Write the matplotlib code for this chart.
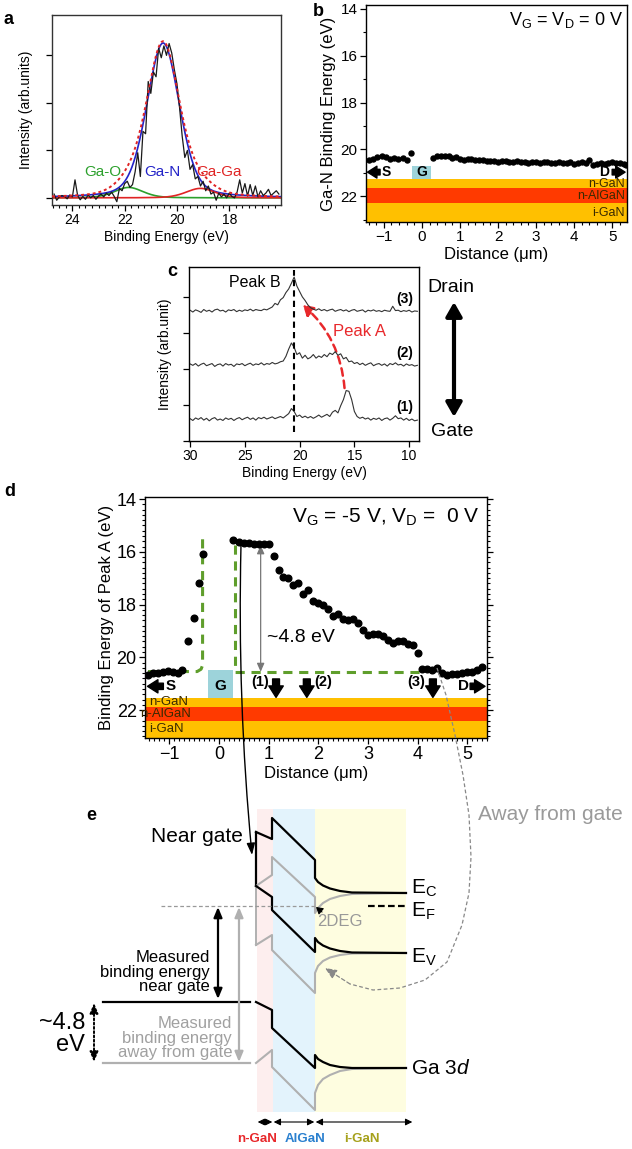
import numpy as np
import matplotlib
matplotlib.use('Agg')
import matplotlib.pyplot as plt
from matplotlib.patches import Rectangle, FancyArrowPatch
from matplotlib.ticker import MultipleLocator, NullFormatter

plt.rcParams['font.family'] = ['Liberation Sans', 'DejaVu Sans']
plt.rcParams['mathtext.fontset'] = 'custom'
plt.rcParams['mathtext.rm'] = 'Liberation Sans'
plt.rcParams['mathtext.it'] = 'Liberation Sans:italic'
plt.rcParams['mathtext.bf'] = 'Liberation Sans:bold'
plt.rcParams['axes.linewidth'] = 1.0

# ---------------- data: panel a ----------------
a_energy = np.linspace(24.7, 16.1, 87)
a_counts = [0.08, -0.05, 0.02, 0.05, 0.03, -0.02, 0.06, 0.02, 0.38, 0.05,
            -0.04, 0.03, -0.03, 0.06, 0.0, 0.05, -0.03, 0.04, 0.08, 0.02,
            0.1, 0.05, 0.12, 0.03, -0.08, 0.2, 0.15, 0.3, 0.35, 0.22,
            0.28, 0.55, 0.95, 0.45, 1.4, 1.35, 2.45, 2.2, 2.65, 2.55,
            3.15, 2.95, 3.2, 3.0, 3.25, 3.05, 2.7, 2.4, 1.9, 1.3,
            0.85, 1.0, 0.6, 0.7, 0.4, 0.45, 0.25, 0.35, 0.15, 0.25,
            0.08, 0.12, -0.05, 0.1, 0.02, 0.08, 0.0, 0.1, 0.03, 0.0,
            0.12, 0.38, 0.1, 0.3, 0.04, 0.28, 0.05, 0.25, 0.02, 0.15,
            0.05, 0.1, 0.18, 0.05, 0.1, 0.15, 0.08]
a_fit_names = ['Ga-O', 'Ga-N', 'Ga-Ga']
a_fit_centers = [21.85, 20.53, 19.1]
a_fit_heights = [0.22, 3.26, 0.20]
a_fit_fwhm = [1.3, 1.48, 1.3]
a_fit_lorentz_frac = [0.3, 0.3, 0.3]
a_fit_colors = ['#2ca02c', '#2323c8', '#e02424']
a_label_x = [22.83, 20.54, 18.4]

# ---------------- data: panel b ----------------
b_x_left = [-1.39, -1.28, -1.17, -1.06, -0.95, -0.84, -0.73, -0.62, -0.51, -0.40]
b_y_left = [20.47, 20.40, 20.33, 20.28, 20.33, 20.40, 20.38, 20.40, 20.38, 20.45]
b_x_mid = [-0.29]
b_y_mid = [20.17]
b_x_right = [0.3, 0.4, 0.5, 0.6, 0.7, 0.8, 0.9, 1.0, 1.1, 1.2, 1.3, 1.4, 1.5, 1.6, 1.7,
             1.8, 1.9, 2.0, 2.1, 2.2, 2.3, 2.4, 2.5, 2.6, 2.7, 2.8, 2.9, 3.0, 3.1, 3.2,
             3.3, 3.4, 3.5, 3.6, 3.7, 3.8, 3.9, 4.0, 4.1, 4.2, 4.3, 4.4, 4.5, 4.6, 4.7,
             4.8, 4.9, 5.0, 5.1, 5.2, 5.3, 5.36]
b_y_right = [20.35, 20.30, 20.28, 20.30, 20.30, 20.35, 20.32, 20.40, 20.45, 20.42, 20.40,
             20.45, 20.45, 20.45, 20.50, 20.48, 20.50, 20.55, 20.50, 20.50, 20.55, 20.55,
             20.50, 20.52, 20.55, 20.58, 20.55, 20.55, 20.60, 20.55, 20.55, 20.58, 20.60,
             20.55, 20.60, 20.60, 20.55, 20.62, 20.60, 20.55, 20.60, 20.45, 20.65, 20.62,
             20.60, 20.62, 20.60, 20.55, 20.60, 20.60, 20.62, 20.65]
layer_names = ['n-GaN', 'n-AlGaN', 'i-GaN']
layer_colors = ['#FFC000', '#FF3A00', '#FFC000']
b_layer_bounds = [21.27, 21.66, 22.30, 23.10]
b_gate = (-0.26, 0.24, 20.70, 21.27)

# ---------------- data: panel c ----------------
c_energy = np.linspace(30.0, 9.25, 84)
c_base = [0.60, 2.10, 3.60]
c_off1 = [0.02, -0.03, 0.04, 0.00, 0.05, -0.02, 0.03, -0.04, 0.02, 0.05,
          -0.02, 0.01, -0.03, 0.04, 0.00, 0.03, -0.03, 0.02, 0.05, -0.01,
          0.03, 0.06, 0.00, 0.04, -0.02, 0.05, 0.02, 0.06, 0.01, 0.04,
          0.07, 0.02, 0.05, 0.08, 0.04, 0.10, 0.16, 0.30, 0.22, 0.08,
          0.12, 0.05, 0.09, 0.04, 0.08, 0.03, 0.07, 0.12, 0.06, 0.10,
          0.14, 0.08, 0.20, 0.25, 0.18, 0.38, 0.55, 0.80, 0.78, 0.55,
          0.22, 0.08, 0.03, 0.06, 0.01, 0.04, -0.02, 0.03, 0.00, 0.04,
          -0.03, 0.02, 0.04, -0.02, 0.03, 0.10, 0.02, 0.04, -0.02, 0.03,
          -0.03, 0.01, -0.04, -0.02]
c_off2 = [0.04, 0.00, 0.05, -0.02, 0.03, 0.06, -0.01, 0.02, 0.05, -0.03,
          0.02, 0.04, -0.02, 0.05, 0.01, 0.03, -0.03, 0.04, 0.02, 0.05,
          -0.01, 0.03, 0.06, 0.00, 0.04, 0.02, 0.07, 0.01, 0.05, 0.03,
          0.08, 0.04, 0.06, 0.10, 0.12, 0.25, 0.45, 0.62, 0.50, 0.30,
          0.35, 0.20, 0.28, 0.18, 0.22, 0.30, 0.20, 0.26, 0.22, 0.30,
          0.24, 0.34, 0.30, 0.38, 0.28, 0.32, 0.18, 0.22, 0.10, 0.12,
          0.05, 0.08, 0.02, 0.06, 0.00, 0.04, 0.07, -0.01, 0.03, 0.05,
          0.00, 0.04, -0.02, 0.05, 0.02, 0.07, 0.01, 0.03, -0.02, 0.04,
          0.00, 0.02, -0.02, 0.00]
c_off3 = [0.03, -0.02, 0.04, 0.01, -0.03, 0.05, 0.00, 0.03, -0.02, 0.04,
          0.06, 0.01, 0.03, -0.02, 0.04, 0.02, 0.05, -0.01, 0.03, 0.00,
          0.04, 0.02, 0.06, 0.01, 0.05, 0.03, 0.02, 0.06, 0.04, 0.08,
          0.12, 0.22, 0.18, 0.32, 0.38, 0.52, 0.62, 0.78, 0.95, 0.70,
          0.55, 0.40, 0.30, 0.18, 0.10, 0.06, 0.03, 0.07, 0.02, 0.05,
          0.01, 0.04, 0.06, 0.00, 0.03, 0.05, 0.01, 0.04, -0.01, 0.03,
          0.05, 0.00, 0.02, 0.04, -0.02, 0.03, 0.01, 0.04, 0.00, 0.02,
          -0.01, 0.03, 0.01, 0.00, 0.14, 0.02, 0.03, -0.01, 0.02, 0.00,
          0.03, -0.02, 0.01, 0.00]
c_labels = ['(1)', '(2)', '(3)']
c_peakB = 20.5
c_peakA_path = [(15.9, 1.47), (19.7, 3.78)]

# ---------------- data: panel d ----------------
d_x = [-1.43, -1.33, -1.23, -1.13, -1.03, -0.93, -0.83, -0.74,
       -0.62, -0.51, -0.40, -0.32,
       0.28, 0.4, 0.5, 0.6, 0.7, 0.8, 0.9, 1.0, 1.1, 1.2, 1.3, 1.4, 1.5, 1.6, 1.7,
       1.8, 1.9, 2.0, 2.1, 2.2, 2.3, 2.4, 2.5, 2.6, 2.7, 2.8, 2.9, 3.0, 3.1, 3.2,
       3.3, 3.4, 3.5, 3.6, 3.7, 3.8, 3.9, 4.0,
       4.1, 4.2, 4.3, 4.4, 4.5, 4.6, 4.7, 4.8, 4.9, 5.0, 5.1, 5.2, 5.3]
d_y = [20.67, 20.60, 20.58, 20.55, 20.52, 20.55, 20.58, 20.48,
       19.38, 18.50, 17.18, 16.08,
       15.55, 15.62, 15.66, 15.68, 15.70, 15.70, 15.72, 15.70, 16.15, 16.70, 16.95,
       17.00, 17.25, 17.20, 17.60, 17.45, 17.85, 17.95, 18.00, 18.15, 18.45, 18.35,
       18.55, 18.58, 18.55, 18.70, 18.95, 19.15, 19.10, 19.10, 19.20, 19.35, 19.45,
       19.40, 19.40, 19.50, 19.55, 19.85,
       20.45, 20.45, 20.50, 20.40, 20.60, 20.68, 20.65, 20.65, 20.60, 20.55, 20.55,
       20.50, 20.38]
d_flat_left_x = [-1.43, -0.44, -0.36, -0.33, -0.33]
d_flat_left_y = [20.54, 20.54, 20.45, 20.30, 15.44]
d_flat_right_x = [0.32, 0.32, 4.05]
d_flat_right_y = [15.74, 20.54, 20.54]
d_layer_bounds = [21.54, 21.88, 22.41, 23.06]
d_gate = (-0.22, 0.28, 20.50, 21.54)
d_probe_x = [1.15, 1.77, 4.31]
d_probe_label_x = [0.82, 2.10, 3.98]
d_shift = (0.84, 15.75, 20.55)

# ---------------- data: panel e (schematic, figure pixels) ----------------
e_layers = ['n-GaN', 'AlGaN', 'i-GaN']
e_layer_x = [257, 273, 315, 406]
e_layer_fill = ['#fdeeee', '#e3f3fc', '#fefde0']
e_layer_textcol = ['#e8282b', '#2a80cf', '#a6a11c']
e_top, e_bot = 809, 1112
bx = [256, 272, 272, 315, 315, 318, 323, 330, 340, 352, 406]
near_EC = [832, 839, 818, 860, 878, 882, 885.5, 888.5, 891, 892.5, 893]
near_EV = [886, 897, 910, 952, 938, 942, 945.5, 948.5, 951, 952.5, 953]
near_3d = [1002, 1010, 1028, 1068, 1055, 1059, 1062, 1065, 1067, 1068, 1068]
far_EC = [886, 875, 857, 897, 913, 908, 903, 899, 896, 894, 893]
far_EV = [945, 935, 950, 993, 973, 966, 961, 957.5, 955, 953.5, 953]
far_3d = [1063, 1050, 1067, 1110, 1093, 1085, 1079, 1075, 1071, 1069, 1068]
EF_y = 906
away_curve = [(437, 668), (446, 695), (455, 735), (463, 775), (469, 815),
              (471, 857), (469, 893), (462, 925), (447, 962), (425, 980),
              (400, 988), (373, 990), (350, 984), (325, 968)]
near_curve = [(241, 545), (252, 855)]

W, H = 632, 1149
fig = plt.figure(figsize=(W / 100, H / 100), dpi=100)


def px_axes(l, t, w, h, **kw):
    return fig.add_axes([l / W, 1 - (t + h) / H, w / W, h / H], **kw)


def fat_arrow(ax, x0, y0, x1, y1, ms=10):
    ax.annotate('', xy=(x1, y1), xytext=(x0, y0),
                arrowprops=dict(arrowstyle='simple,head_length=0.75,head_width=0.95,tail_width=0.45',
                                color='k', mutation_scale=ms, shrinkA=0, shrinkB=0), annotation_clip=False)


def style_ticks(ax, size):
    ax.tick_params(which='both', direction='out', labelsize=size, pad=2)
    ax.tick_params(which='major', length=4, width=0.9)
    ax.tick_params(which='minor', length=2.2, width=0.8)

# ---------------- panel a ----------------
axa = px_axes(52, 15, 229, 190)
axa.set_xlim(24.78, 16.02)
axa.set_ylim(-0.15, 3.85)
grid = np.linspace(24.78, 16.02, 500)
total = np.zeros_like(grid)
for name, c, h, f, eta, col in zip(a_fit_names, a_fit_centers, a_fit_heights, a_fit_fwhm,
                                   a_fit_lorentz_frac, a_fit_colors):
    u = (grid - c) / f
    comp = h * ((1 - eta) * np.exp(-4 * np.log(2) * u ** 2) + eta / (1 + 4 * u ** 2))
    total += comp
    axa.plot(grid, comp, color=col, lw=1.2, zorder=2)
axa.plot(a_energy, a_counts, color='#1a1a1a', lw=0.9, zorder=3)
axa.plot(grid, total, color='#e02424', lw=1.4, ls=(0, (1.5, 1.5)), zorder=4)
for name, col, xt in zip(a_fit_names, a_fit_colors, a_label_x):
    axa.text(xt, 0.55, name, color=col, fontsize=11, ha='center', va='center', zorder=5)
axa.set_xticks([24, 22, 20, 18])
axa.xaxis.set_minor_locator(MultipleLocator(0.25))
axa.set_yticks([0, 1, 2, 3])
axa.yaxis.set_major_formatter(NullFormatter())
style_ticks(axa, 10)
axa.set_xlabel('Binding Energy (eV)', fontsize=10, labelpad=2)
axa.set_ylabel('Intensity (arb.units)', fontsize=10, labelpad=8)
for sp in axa.spines.values():
    sp.set_color('#333333')

# ---------------- panel b ----------------
axb = px_axes(366, 5, 261, 217)
axb.set_xlim(-1.47, 5.39)
axb.set_ylim(23.1, 13.83)
for lo, hi, col in zip(b_layer_bounds[:-1], b_layer_bounds[1:], layer_colors):
    axb.axhspan(lo, hi, color=col, lw=0, zorder=1)
for name, lo, hi in zip(layer_names, b_layer_bounds[:-1], b_layer_bounds[1:]):
    axb.text(5.33, (lo + hi) / 2, name, ha='right', va='center', fontsize=9, color='#3a2a00', zorder=3)
g0, g1, gy0, gy1 = b_gate
axb.add_patch(Rectangle((g0, gy0), g1 - g0, gy1 - gy0, color='#9dd3da', lw=0, zorder=2))
axb.text((g0 + g1) / 2, (gy0 + gy1) / 2, 'G', ha='center', va='center', fontsize=10, fontweight='bold', zorder=3)
axb.plot(b_x_left + b_x_mid + b_x_right, b_y_left + b_y_mid + b_y_right, 'o', ls='none',
         color='k', ms=3.6, zorder=4)
fat_arrow(axb, -1.1, 20.97, -1.43, 20.97, ms=9)
axb.text(-0.93, 20.97, 'S', fontsize=10, fontweight='bold', ha='center', va='center')
fat_arrow(axb, 5.0, 20.97, 5.34, 20.97, ms=9)
axb.text(4.8, 20.97, 'D', fontsize=10, fontweight='bold', ha='center', va='center')
axb.text(5.3, 14.45, r'V$_\mathregular{G}$ = V$_\mathregular{D}$ = 0 V', fontsize=13, ha='right', va='center')
axb.yaxis.set_major_locator(MultipleLocator(2))
axb.yaxis.set_minor_locator(MultipleLocator(1))
axb.set_xticks([-1, 0, 1, 2, 3, 4, 5])
axb.xaxis.set_minor_locator(MultipleLocator(0.2))
style_ticks(axb, 11)
axb.set_xlabel('Distance (μm)', fontsize=12, labelpad=2)
axb.set_ylabel('Ga-N Binding Energy (eV)', fontsize=12, labelpad=3)

# ---------------- panel c ----------------
axc = px_axes(189, 267, 230, 174)
axc.set_xlim(30.1, 9.1)
axc.set_ylim(0, 4.83)
for base, off in zip(c_base, [c_off1, c_off2, c_off3]):
    axc.plot(c_energy, base + np.array(off), color='#333333', lw=0.8)
axc.plot([c_peakB, c_peakB], [0.25, 4.75], color='k', lw=1.5, ls=(0, (3, 2)))
axc.add_patch(FancyArrowPatch(c_peakA_path[0], c_peakA_path[1], connectionstyle='arc3,rad=0.2',
                              arrowstyle='-|>,head_length=0.5,head_width=0.3', mutation_scale=12,
                              color='#e8282b', lw=1.8, ls=(0, (3, 2)), shrinkA=0, shrinkB=0))
axc.text(24.1, 4.4, 'Peak B', fontsize=11.5, ha='center', va='center')
axc.text(14.5, 3.03, 'Peak A', fontsize=12, color='#e8282b', ha='center', va='center')
for lab, base in zip(c_labels, c_base):
    axc.text(9.6, base + 0.35, lab, fontsize=10, fontweight='bold', ha='right', va='center')
axc.set_xticks([30, 25, 20, 15, 10])
axc.set_yticks([0, 1, 2, 3, 4])
axc.yaxis.set_major_formatter(NullFormatter())
style_ticks(axc, 10)
axc.set_xlabel('Binding Energy (eV)', fontsize=10, labelpad=2)
axc.set_ylabel('Intensity (arb.unit)', fontsize=10, labelpad=6)

# ---------------- panel d ----------------
axd = px_axes(145, 497, 342, 241)
axd.set_xlim(-1.49, 5.4)
axd.set_ylim(23.06, 13.92)
for lo, hi, col in zip(d_layer_bounds[:-1], d_layer_bounds[1:], layer_colors):
    axd.axhspan(lo, hi, color=col, lw=0, zorder=1)
for name, lo, hi, xt in zip(layer_names, d_layer_bounds[:-1], d_layer_bounds[1:], [-1.4, -1.58, -1.4]):
    axd.text(xt, (lo + hi) / 2, name, ha='left', va='center', fontsize=9.5, color='#3a2a00',
             zorder=3, clip_on=False)
g0, g1, gy0, gy1 = d_gate
axd.add_patch(Rectangle((g0, gy0), g1 - g0, gy1 - gy0, color='#9dd3da', lw=0, zorder=2))
axd.text((g0 + g1) / 2, (gy0 + gy1) / 2 + 0.05, 'G', ha='center', va='center', fontsize=11, fontweight='bold', zorder=3)
axd.plot(d_flat_left_x, d_flat_left_y, color='#5f9e2c', lw=2.2, ls=(0, (3, 2.2)), zorder=3)
axd.plot(d_flat_right_x, d_flat_right_y, color='#5f9e2c', lw=2.2, ls=(0, (3, 2.2)), zorder=3)
axd.plot(d_x, d_y, 'o', ls='none', color='k', ms=4.8, zorder=4)
sx, sy0, sy1 = d_shift
axd.annotate('', xy=(sx, sy0), xytext=(sx, sy1),
             arrowprops=dict(arrowstyle='<|-|>,head_length=0.5,head_width=0.22', color='#777777',
                             lw=0.9, mutation_scale=10, shrinkA=0, shrinkB=0))
axd.text(0.96, 19.25, '~4.8 eV', fontsize=14, ha='left', va='center')
for px_, lx, lab in zip(d_probe_x, d_probe_label_x, c_labels):
    fat_arrow(axd, px_, 20.82, px_, 21.52, ms=11)
    axd.text(lx, 20.92, lab, fontsize=10.5, fontweight='bold', ha='center', va='center')
fat_arrow(axd, -1.12, 21.1, -1.44, 21.1, ms=10)
axd.text(-0.97, 21.1, 'S', fontsize=11, fontweight='bold', ha='center', va='center')
fat_arrow(axd, 5.06, 21.1, 5.36, 21.1, ms=10)
axd.text(4.92, 21.1, 'D', fontsize=11, fontweight='bold', ha='center', va='center')
axd.text(5.25, 14.7, r'V$_\mathregular{G}$ = -5 V, V$_\mathregular{D}$ =  0 V', fontsize=15, ha='right', va='center')
axd.yaxis.set_major_locator(MultipleLocator(2))
axd.yaxis.set_minor_locator(MultipleLocator(0.2))
axd.set_xticks([-1, 0, 1, 2, 3, 4, 5])
axd.xaxis.set_minor_locator(MultipleLocator(0.1))
style_ticks(axd, 13)
axd.tick_params(which='both', right=True)
axd.set_xlabel('Distance (μm)', fontsize=12, labelpad=2)
axd.set_ylabel('Binding Energy of Peak A (eV)', fontsize=12, labelpad=2)

# ---------------- overlay / panel e ----------------
ov = fig.add_axes([0, 0, 1, 1], zorder=20)
ov.set_xlim(0, W)
ov.set_ylim(H, 0)
ov.axis('off')
ov.patch.set_alpha(0)

for x0, x1, col in zip(e_layer_x[:-1], e_layer_x[1:], e_layer_fill):
    ov.add_patch(Rectangle((x0, e_top), x1 - x0, e_bot - e_top, color=col, lw=0, zorder=0))

gray = '#b0b0b0'
ov.plot([bx[0], bx[0]], [near_EC[0], near_EV[0]], color='k', lw=1.6)
ov.plot([bx[0], bx[0]], [far_EC[0], far_EV[0]], color=gray, lw=1.4)
for ys in (far_EC, far_EV, far_3d):
    ov.plot(bx, ys, color=gray, lw=1.5)
ov.plot(bx, near_EC, color='k', lw=1.6)
ov.plot(bx, near_EV, color='k', lw=1.6)
ov.plot(bx, near_3d, color='k', lw=1.6)
ov.plot([103, 250], [1002, 1002], color='k', lw=1.6)
ov.plot([103, 250], [1063, 1063], color=gray, lw=1.6)
ov.plot([161, 317], [EF_y, EF_y], color='#999999', lw=0.9, ls=(0, (3, 2)))
ov.plot([368, 406], [EF_y, EF_y], color='k', lw=1.6, ls=(0, (3, 1.5)))

ov.annotate('', xy=(218, 999), xytext=(218, 907),
            arrowprops=dict(arrowstyle='<|-|>,head_length=0.6,head_width=0.25', color='k', lw=1.6,
                            mutation_scale=10, shrinkA=0, shrinkB=0))
ov.annotate('', xy=(239, 1062), xytext=(239, 907),
            arrowprops=dict(arrowstyle='<|-|>,head_length=0.6,head_width=0.25', color=gray, lw=1.6,
                            mutation_scale=10, shrinkA=0, shrinkB=0))
ov.annotate('', xy=(94, 1062), xytext=(94, 1003),
            arrowprops=dict(arrowstyle='<|-|>,head_length=0.6,head_width=0.25', color='k', lw=1.4,
                            ls=(0, (1, 1.2)), mutation_scale=10, shrinkA=0, shrinkB=0))
ov.annotate('', xy=(316, 907), xytext=(322, 912),
            arrowprops=dict(arrowstyle='-|>,head_length=0.5,head_width=0.3', color='k', lw=0.8,
                            mutation_scale=8, shrinkA=0, shrinkB=0))

ov.text(197, 837, 'Near gate', fontsize=15, ha='center', va='center')
ov.text(550, 815, 'Away from gate', fontsize=15, ha='center', va='center', color='#9a9a9a')
ov.text(411, 888, r'E$_\mathregular{C}$', fontsize=15, ha='left', va='center')
ov.text(411, 911, r'E$_\mathregular{F}$', fontsize=15, ha='left', va='center')
ov.text(411, 957, r'E$_\mathregular{V}$', fontsize=15, ha='left', va='center')
ov.text(411, 1068, r'Ga 3$\mathit{d}$', fontsize=15, ha='left', va='center')
ov.text(317, 921, '2DEG', fontsize=12, ha='left', va='center', color='#999999')
ov.text(210, 972, 'Measured\nbinding energy\nnear gate', fontsize=12, ha='right', va='center',
        linespacing=1.0)
ov.text(232, 1038, 'Measured\nbinding energy\naway from gate', fontsize=12, ha='right', va='center',
        linespacing=1.0, color='#a0a0a0')
ov.text(85, 1034, '~4.8\neV', fontsize=17, ha='right', va='center', linespacing=1.05)

for x0, x1 in zip(e_layer_x[:-1], [273, 315, 413]):
    ov.annotate('', xy=(x1, 1122), xytext=(x0, 1122),
                arrowprops=dict(arrowstyle='<|-|>,head_length=0.5,head_width=0.25', color='k', lw=0.8,
                                mutation_scale=8, shrinkA=0.5, shrinkB=0.5))
for xc, lab, col in zip([257, 305, 362], e_layers, e_layer_textcol):
    ov.text(xc, 1139, lab, fontsize=9.5, fontweight='bold', color=col, ha='center', va='center')

# connectors
(nx0, ny0), (nx1, ny1) = near_curve
ov.annotate('', xy=(nx1, ny1), xytext=(nx0, ny0),
            arrowprops=dict(arrowstyle='-|>,head_length=0.7,head_width=0.25', color='k', lw=1.0,
                            mutation_scale=10, shrinkA=0, shrinkB=0, connectionstyle='arc3,rad=0.03'))
axs = [p[0] for p in away_curve]
ays = [p[1] for p in away_curve]
ov.plot(axs[:-1], ays[:-1], color='#888888', lw=0.9, ls=(0, (3, 2)))
ov.annotate('', xy=away_curve[-1], xytext=away_curve[-2],
            arrowprops=dict(arrowstyle='-|>,head_length=0.7,head_width=0.3', color='#888888', lw=0.9,
                            ls=(0, (3, 2)), mutation_scale=10, shrinkA=0, shrinkB=0))

# drain / gate
ov.annotate('', xy=(454, 302), xytext=(454, 417),
            arrowprops=dict(arrowstyle='<|-|>,head_length=0.7,head_width=0.4', color='k', lw=3,
                            mutation_scale=12, shrinkA=0, shrinkB=0))
ov.text(451, 288, 'Drain', fontsize=14, ha='center', va='center')
ov.text(452, 432, 'Gate', fontsize=14, ha='center', va='center')

# panel letters
for lab, x, y in [('a', 8, 20), ('b', 318, 12), ('c', 172, 272), ('d', 10, 491), ('e', 91, 816)]:
    ov.text(x, y, lab, fontsize=13, fontweight='bold', ha='center', va='center')

fig.savefig('out.png', dpi=100)
